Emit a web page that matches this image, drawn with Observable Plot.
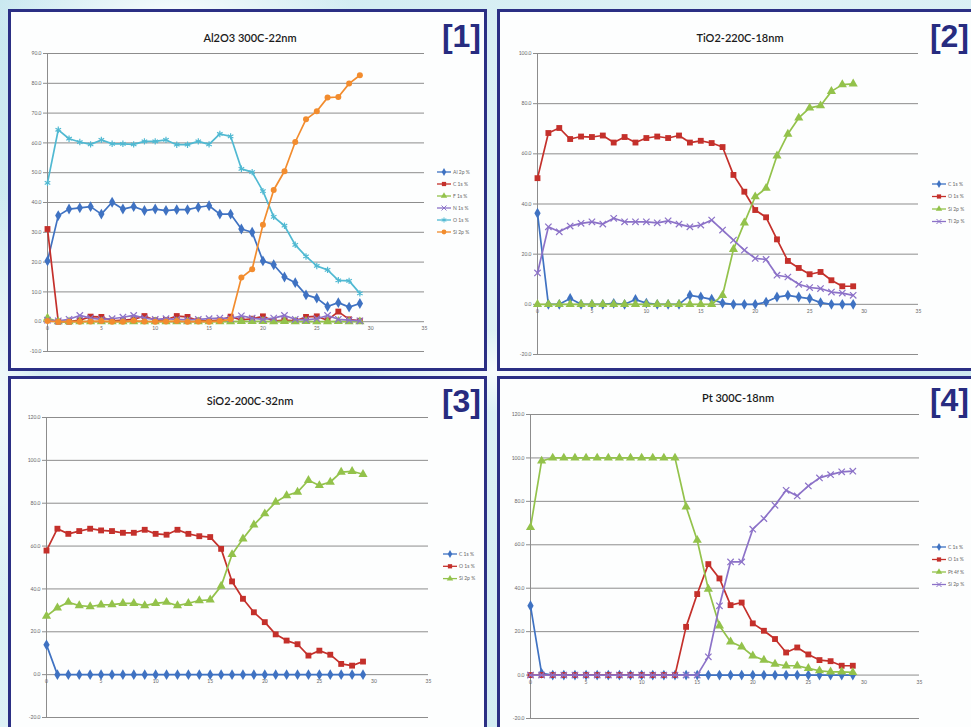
<!DOCTYPE html>
<html>
<head>
<meta charset="utf-8">
<script src="https://cdn.jsdelivr.net/npm/d3@7"></script>
<script src="https://cdn.jsdelivr.net/npm/@observablehq/plot@0.6"></script>
<style>
  html, body { margin: 0; padding: 0; }
  body {
    width: 971px; height: 727px; overflow: hidden; position: relative;
    font-family: Lato, "Open Sans", sans-serif;
    background:
      radial-gradient(ellipse 260px 90px at 18% 2%, rgba(255,255,255,0.85), rgba(255,255,255,0) 70%),
      radial-gradient(ellipse 60px 300px at 0% 55%, rgba(255,255,255,0.7), rgba(255,255,255,0) 70%),
      radial-gradient(ellipse 200px 60px at 52% 51%, rgba(255,255,255,0.8), rgba(255,255,255,0) 70%),
      linear-gradient(135deg, #c9e8f0 0%, #dff2f6 45%, #c6e6ee 100%);
  }
  .panel { position: absolute; box-sizing: border-box; border: 3px solid #2b2f84; background: #fdfefe; }
  .chart { position: absolute; }
  #overlay { position: absolute; left: 0; top: 0; pointer-events: none; }
</style>
</head>
<body>
<script>
// Sputter steps (x) shared by all four depth profiles
const steps = [0, 1, 2, 3, 4, 5, 6, 7, 8, 9, 10, 11, 12, 13, 14, 15, 16, 17, 18, 19, 20, 21, 22, 23, 24, 25, 26, 27, 28, 29];
const xTicks = [0, 5, 10, 15, 20, 25, 30, 35];
const yTicks1 = [-10, 0, 10, 20, 30, 40, 50, 60, 70, 80, 90];
const yTicks2 = [-20, 0, 20, 40, 60, 80, 100];
const yTicks3 = [-20, 0, 20, 40, 60, 80, 100, 120];

// [1] Al2O3 300C-22nm (atomic %)
const al2o3_Al2p = [20.4, 35.6, 37.8, 38.2, 38.6, 36.1, 40.1, 37.8, 38.6, 37.3, 37.8, 37.3, 37.6, 37.6, 38.4, 38.9, 36.1, 36.1, 31.1, 30.0, 20.4, 19.1, 15.0, 13.1, 9.0, 7.9, 5.1, 6.4, 4.9, 6.1];
const al2o3_C1s  = [31.1, 0.0, 0.0, 0.5, 1.7, 1.6, 0.3, 0.5, 0.8, 1.9, 0.5, 0.6, 1.9, 1.6, 0.4, 0.3, 0.5, 1.7, 0.6, 1.0, 1.8, 0.2, 0.5, 0.3, 1.6, 1.8, 0.5, 3.4, 0.8, 0.3];
const al2o3_F1s  = [1.2, 0.0, 0.0, 0.0, 0.0, 0.0, 0.0, 0.0, 0.0, 0.0, 0.0, 0.0, 0.0, 0.0, 0.0, 0.0, 0.0, 0.0, 0.1, 0.1, 0.1, 0.0, 0.1, 0.0, 0.1, 0.0, 0.0, 0.1, 0.0, 0.0];
const al2o3_N1s  = [0.5, 0.3, 0.8, 2.1, 1.2, 0.8, 1.0, 1.5, 2.1, 1.2, 0.8, 1.0, 0.8, 0.6, 0.8, 1.0, 1.2, 1.0, 2.0, 1.2, 0.8, 1.2, 2.1, 0.8, 0.6, 1.0, 2.1, 0.8, 0.5, 0.3];
const al2o3_O1s  = [46.6, 64.4, 61.4, 60.3, 59.5, 61.0, 59.7, 59.7, 59.5, 60.5, 60.5, 61.0, 59.4, 59.4, 60.5, 59.5, 63.0, 62.2, 51.3, 50.2, 43.8, 35.2, 32.2, 25.8, 21.9, 18.7, 17.4, 13.9, 13.7, 9.5];
const al2o3_Si2p = [0.2, 0.0, 0.0, 0.0, 0.1, 0.2, 0.0, 0.0, 0.3, 0.1, 0.0, 0.1, 0.2, 0.0, 0.1, 0.0, 0.2, 0.8, 14.8, 17.6, 32.5, 44.2, 50.5, 60.3, 67.9, 70.6, 75.2, 75.4, 79.9, 82.7];

// [2] TiO2-220C-18nm
const tio2_C1s  = [36.3, 0.0, 0.0, 2.3, 0.0, 0.0, 0.0, 0.4, 0.0, 1.9, 0.5, 0.0, 0.0, 0.0, 3.6, 2.9, 2.0, 0.5, 0.0, 0.0, 0.0, 0.9, 2.9, 3.6, 2.9, 2.3, 0.7, 0.0, 0.0, 0.0];
const tio2_O1s  = [50.3, 68.3, 70.3, 65.9, 66.9, 66.7, 67.3, 64.5, 66.7, 64.5, 66.3, 66.9, 66.3, 67.3, 64.5, 65.2, 64.3, 62.7, 51.6, 44.9, 37.6, 34.7, 25.9, 17.3, 14.5, 12.0, 12.9, 9.6, 7.2, 7.2];
const tio2_Si2p = [0.0, 0.0, 0.0, 0.0, 0.0, 0.0, 0.0, 0.0, 0.0, 0.0, 0.0, 0.0, 0.0, 0.0, 0.0, 0.0, 0.0, 3.6, 21.9, 32.5, 42.9, 46.3, 59.2, 67.9, 74.3, 78.3, 79.2, 84.9, 87.6, 87.9];
const tio2_Ti2p = [12.5, 30.9, 28.9, 31.2, 32.3, 32.9, 32.0, 34.3, 32.9, 32.9, 32.9, 32.5, 33.3, 32.0, 30.9, 31.6, 33.6, 29.6, 25.6, 21.6, 18.3, 17.9, 11.6, 10.9, 8.0, 6.7, 6.3, 4.9, 4.5, 3.6];

// [3] SiO2-200C-32nm
const sio2_C1s  = [13.9, 0.0, 0.0, 0.0, 0.0, 0.0, 0.0, 0.0, 0.0, 0.0, 0.0, 0.0, 0.0, 0.0, 0.0, 0.0, 0.0, 0.0, 0.0, 0.0, 0.0, 0.0, 0.0, 0.0, 0.0, 0.0, 0.0, 0.0, 0.0, 0.0];
const sio2_O1s  = [57.9, 68.1, 65.7, 67.0, 68.1, 67.3, 67.0, 66.2, 66.2, 67.6, 65.7, 65.3, 67.6, 65.7, 64.6, 64.2, 58.7, 43.5, 35.4, 29.1, 24.5, 18.8, 15.9, 14.2, 8.9, 11.2, 9.3, 5.0, 4.2, 6.1];
const sio2_Si2p = [27.3, 31.2, 33.8, 32.2, 31.8, 32.6, 32.7, 33.3, 33.3, 32.2, 33.3, 33.8, 32.2, 33.3, 34.6, 34.9, 41.3, 56.1, 63.4, 69.9, 75.1, 80.5, 83.6, 85.2, 90.7, 88.3, 89.9, 94.5, 94.9, 93.5];

// [4] Pt 300C-18nm
const pt_C1s  = [31.9, 0.8, 0.0, 0.0, 0.0, 0.0, 0.0, 0.0, 0.0, 0.0, 0.0, 0.0, 0.0, 0.0, 0.0, 0.0, 0.0, 0.0, 0.0, 0.0, 0.0, 0.0, 0.0, 0.0, 0.0, 0.0, 0.0, 0.0, 0.0, 0.0];
const pt_O1s  = [0.0, 0.0, 0.0, 0.0, 0.0, 0.0, 0.0, 0.0, 0.0, 0.0, 0.0, 0.0, 0.0, 0.0, 22.2, 37.3, 51.1, 44.5, 32.2, 33.4, 23.8, 20.4, 16.6, 10.4, 12.7, 9.5, 6.9, 6.4, 4.3, 4.3];
const pt_Pt4f = [68.0, 98.6, 100.0, 100.0, 100.0, 100.0, 100.0, 100.0, 100.0, 100.0, 100.0, 100.0, 100.0, 100.0, 77.5, 62.1, 39.6, 22.7, 15.3, 13.0, 8.9, 6.9, 5.1, 4.3, 4.3, 3.1, 2.0, 1.5, 1.5, 1.2];
const pt_Si2p = [0.0, 0.0, 0.0, 0.0, 0.0, 0.0, 0.0, 0.0, 0.0, 0.0, 0.0, 0.0, 0.0, 0.0, 0.0, 0.0, 8.4, 31.9, 52.1, 52.1, 67.2, 72.1, 78.2, 85.1, 82.5, 87.1, 90.8, 92.3, 93.6, 93.9];

// Series palette and marker shapes
const BLUE = "#3f72c2", RED = "#c4302b", GREEN = "#93c24b", PURPLE = "#8c72c8", AQUA = "#50b9d2", ORANGE = "#f28c2e";

const panels = [
  {
    frame: [8, 9, 479, 362], box: [8, 9, 479, 362], margin: [44, 63, 20, 39],
    yDomain: [-10, 90], yTicks: yTicks1,
    title: "Al2O3 300C-22nm", titleAt: [250, 42], tag: "[1]", tagAt: [481, 47], legendAt: [437, 172, 12],
    series: [
      {name: "Al 2p %", values: al2o3_Al2p, color: BLUE, symbol: "diamond"},
      {name: "C 1s %", values: al2o3_C1s, color: RED, symbol: "square"},
      {name: "F 1s %", values: al2o3_F1s, color: GREEN, symbol: "triangle"},
      {name: "N 1s %", values: al2o3_N1s, color: PURPLE, symbol: "times"},
      {name: "O 1s %", values: al2o3_O1s, color: AQUA, symbol: "asterisk"},
      {name: "Si 2p %", values: al2o3_Si2p, color: ORANGE, symbol: "circle"}
    ]
  },
  {
    frame: [497, 9, 482, 362], box: [497, 9, 474, 362], margin: [44, 53, 17, 40],
    yDomain: [-20, 100], yTicks: yTicks2,
    title: "TiO2-220C-18nm", titleAt: [740, 42], tag: "[2]", tagAt: [969, 47], legendAt: [932, 184, 12.5],
    series: [
      {name: "C 1s %", values: tio2_C1s, color: BLUE, symbol: "diamond"},
      {name: "O 1s %", values: tio2_O1s, color: RED, symbol: "square"},
      {name: "Si 2p %", values: tio2_Si2p, color: GREEN, symbol: "triangle"},
      {name: "Ti 2p %", values: tio2_Ti2p, color: PURPLE, symbol: "times"}
    ]
  },
  {
    frame: [8, 376, 479, 362], box: [8, 376, 479, 351], margin: [41, 59, 10, 38],
    yDomain: [-20, 120], yTicks: yTicks3,
    title: "SiO2-200C-32nm", titleAt: [250, 405], tag: "[3]", tagAt: [481, 412], legendAt: [443, 554, 12.3],
    series: [
      {name: "C 1s %", values: sio2_C1s, color: BLUE, symbol: "diamond"},
      {name: "O 1s %", values: sio2_O1s, color: RED, symbol: "square"},
      {name: "Si 2p %", values: sio2_Si2p, color: GREEN, symbol: "triangle"}
    ]
  },
  {
    frame: [497, 376, 482, 362], box: [497, 376, 474, 351], margin: [38, 52, 9, 33],
    yDomain: [-20, 120], yTicks: yTicks3,
    title: "Pt 300C-18nm", titleAt: [738, 402], tag: "[4]", tagAt: [969, 411], legendAt: [932, 547, 12.5],
    series: [
      {name: "C 1s %", values: pt_C1s, color: BLUE, symbol: "diamond"},
      {name: "O 1s %", values: pt_O1s, color: RED, symbol: "square"},
      {name: "Pt 4f %", values: pt_Pt4f, color: GREEN, symbol: "triangle"},
      {name: "Si 2p %", values: pt_Si2p, color: PURPLE, symbol: "times"}
    ]
  }
];

const strokeSymbols = new Set(["times", "asterisk"]);
const markerRadius = {diamond: 3.3, square: 3.3, triangle: 3.4, times: 3.0, asterisk: 3.0, circle: 3.0};
const GRID = "#8d8d8d";

function markerStyle(s) {
  const r = markerRadius[s.symbol];
  return strokeSymbols.has(s.symbol)
    ? {symbol: s.symbol, r, stroke: s.color, fill: "none", strokeWidth: 1.2}
    : {symbol: s.symbol, r, fill: s.color, stroke: "none"};
}

// Panel frames first, charts on top
for (const p of panels) {
  const div = document.createElement("div");
  div.className = "panel";
  const [l, t, w, h] = p.frame;
  Object.assign(div.style, {left: l + "px", top: t + "px", width: w + "px", height: h + "px"});
  document.body.appendChild(div);
}

for (const p of panels) {
  const [l, t, w, h] = p.box;
  const [mt, mr, mb, ml] = p.margin;
  const marks = [
    Plot.ruleY(p.yTicks, {stroke: GRID, strokeWidth: 1}),
    Plot.ruleX([0], {stroke: GRID, strokeWidth: 1}),
    Plot.axisY({ticks: p.yTicks, tickFormat: d => d.toFixed(1), tickSize: 4, tickPadding: 2, fontSize: 5, label: null, stroke: GRID, fill: "#666"}),
    Plot.text(xTicks, {x: d => d, y: 0, dy: 7, text: d => String(d), fontSize: 5, fill: "#666"})
  ];
  for (const s of p.series) {
    const rows = steps.map((x, i) => ({x, y: s.values[i]}));
    marks.push(Plot.line(rows, {x: "x", y: "y", stroke: s.color, strokeWidth: 1.7}));
    marks.push(Plot.dot(rows, {x: "x", y: "y", ...markerStyle(s)}));
  }
  const svg = Plot.plot({
    width: w, height: h,
    marginTop: mt, marginRight: mr, marginBottom: mb, marginLeft: ml,
    x: {domain: [0, 35], axis: null},
    y: {domain: p.yDomain, axis: null},
    style: {background: "transparent", overflow: "visible", fontFamily: "Lato, sans-serif"},
    marks
  });
  svg.classList.add("chart");
  Object.assign(svg.style, {position: "absolute", left: l + "px", top: t + "px"});
  document.body.appendChild(svg);
}

// Titles, panel numbers and legends
const overlay = d3.select("body").append("svg")
  .attr("id", "overlay").attr("width", 971).attr("height", 727);

for (const p of panels) {
  overlay.append("text")
    .attr("x", p.titleAt[0]).attr("y", p.titleAt[1])
    .attr("text-anchor", "middle")
    .attr("font-family", "Lato, sans-serif").attr("font-weight", 600).attr("font-size", 11)
    .attr("fill", "#1b1b1b")
    .text(p.title);
  overlay.append("text")
    .attr("x", p.tagAt[0]).attr("y", p.tagAt[1])
    .attr("text-anchor", "end")
    .attr("font-family", "'Liberation Sans', Arial, sans-serif").attr("font-weight", 700).attr("font-size", 32)
    .attr("fill", "#272c80")
    .text(p.tag);

  const [lx, ly, step] = p.legendAt;
  p.series.forEach((s, i) => {
    const y = ly + i * step;
    const g = overlay.append("g");
    g.append("line").attr("x1", lx).attr("x2", lx + 14).attr("y1", y).attr("y2", y)
      .attr("stroke", s.color).attr("stroke-width", 1.3);
    const type = {diamond: d3.symbolDiamond, square: d3.symbolSquare, triangle: d3.symbolTriangle,
                  times: d3.symbolTimes, asterisk: d3.symbolAsterisk, circle: d3.symbolCircle}[s.symbol];
    const path = g.append("path").attr("d", d3.symbol(type, 18)())
      .attr("transform", `translate(${lx + 7},${y})`);
    if (strokeSymbols.has(s.symbol)) path.attr("fill", "none").attr("stroke", s.color).attr("stroke-width", 1);
    else path.attr("fill", s.color);
    g.append("text").attr("x", lx + 16).attr("y", y).attr("dy", "0.35em")
      .attr("font-family", "Lato, sans-serif").attr("font-size", 5).attr("fill", "#666")
      .text(s.name);
  });
}
</script>
</body>
</html>
